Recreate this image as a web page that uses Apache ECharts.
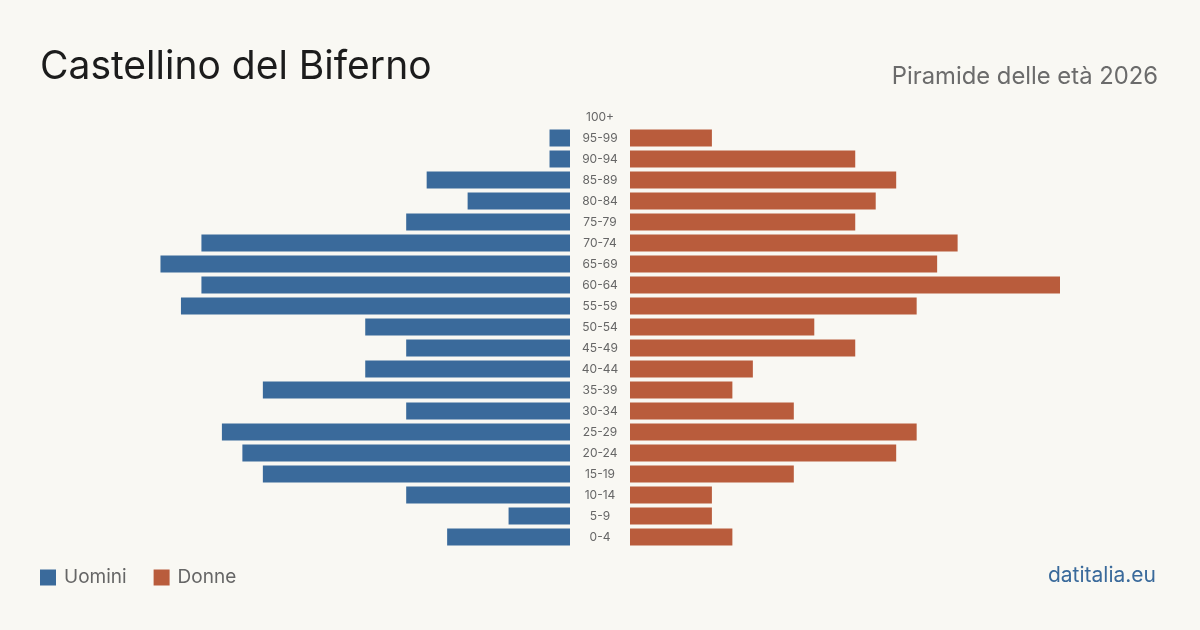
<!DOCTYPE html>
<html>
<head>
<meta charset="utf-8">
<script src="https://cdn.jsdelivr.net/npm/echarts@6/dist/echarts.min.js"></script>
<style>
  html, body { margin: 0; padding: 0; background: #f9f8f3; }
  #chart { width: 1200px; height: 630px; }
</style>
</head>
<body>
<div id="chart"></div>
<script>
// age classes, bottom to top
const ageGroups = ["0-4", "5-9", "10-14", "15-19", "20-24", "25-29", "30-34", "35-39", "40-44", "45-49",
  "50-54", "55-59", "60-64", "65-69", "70-74", "75-79", "80-84", "85-89", "90-94", "95-99", "100+"]
const men = [6, 3, 8, 15, 16, 17, 8, 15, 10, 8, 10, 19, 18, 20, 18, 8, 5, 7, 1, 1, 0]
const women = [5, 4, 4, 8, 13, 14, 8, 5, 6, 11, 9, 14, 21, 15, 16, 11, 12, 13, 11, 4, 0]

const blue = "#3a6a9b"
const orange = "#b95c3c"
const font = "Inter, 'Noto Sans', sans-serif"
const axisMax = 21

const chart = echarts.init(document.getElementById("chart"))

chart.setOption({
  backgroundColor: "#f9f8f3",
  textStyle: { fontFamily: font },
  animation: false,
  title: [
    {
      text: "Castellino del Biferno",
      left: 35,
      top: 43,
      textStyle: { fontSize: 39, fontWeight: "normal", color: "#1c1c1c", fontFamily: font }
    },
    {
      text: "Piramide delle età 2026",
      right: 37,
      top: 60,
      textStyle: { fontSize: 23.8, fontWeight: "normal", color: "#6b6b6b", fontFamily: font }
    },
    {
      text: "datitalia.eu",
      right: 39,
      top: 560,
      textStyle: { fontSize: 21, fontWeight: "normal", color: blue, fontFamily: font }
    }
  ],
  legend: {
    left: 35,
    top: 563,
    icon: "rect",
    itemWidth: 16,
    itemHeight: 16,
    itemGap: 27,
    textStyle: { fontSize: 19, color: "#666", fontFamily: font, padding: [0, 0, 0, 3] },
    data: ["Uomini", "Donne"]
  },
  grid: [
    { left: 140, width: 430, top: 106.5, height: 441 },
    { left: 630, width: 430, top: 106.5, height: 441 }
  ],
  xAxis: [
    { gridIndex: 0, type: "value", min: 0, max: axisMax, inverse: true, show: false },
    { gridIndex: 1, type: "value", min: 0, max: axisMax, show: false }
  ],
  yAxis: [
    {
      gridIndex: 0, type: "category", data: ageGroups, show: false
    },
    {
      gridIndex: 1, type: "category", data: ageGroups, position: "left",
      axisLine: { show: false }, axisTick: { show: false },
      axisLabel: { align: "center", margin: 30, fontSize: 12, color: "#666", fontFamily: font }
    }
  ],
  series: [
    {
      name: "Uomini", type: "bar", xAxisIndex: 0, yAxisIndex: 0,
      data: men, barWidth: 17, itemStyle: { color: blue }
    },
    {
      name: "Donne", type: "bar", xAxisIndex: 1, yAxisIndex: 1,
      data: women, barWidth: 17, itemStyle: { color: orange }
    }
  ]
})
</script>
</body>
</html>
